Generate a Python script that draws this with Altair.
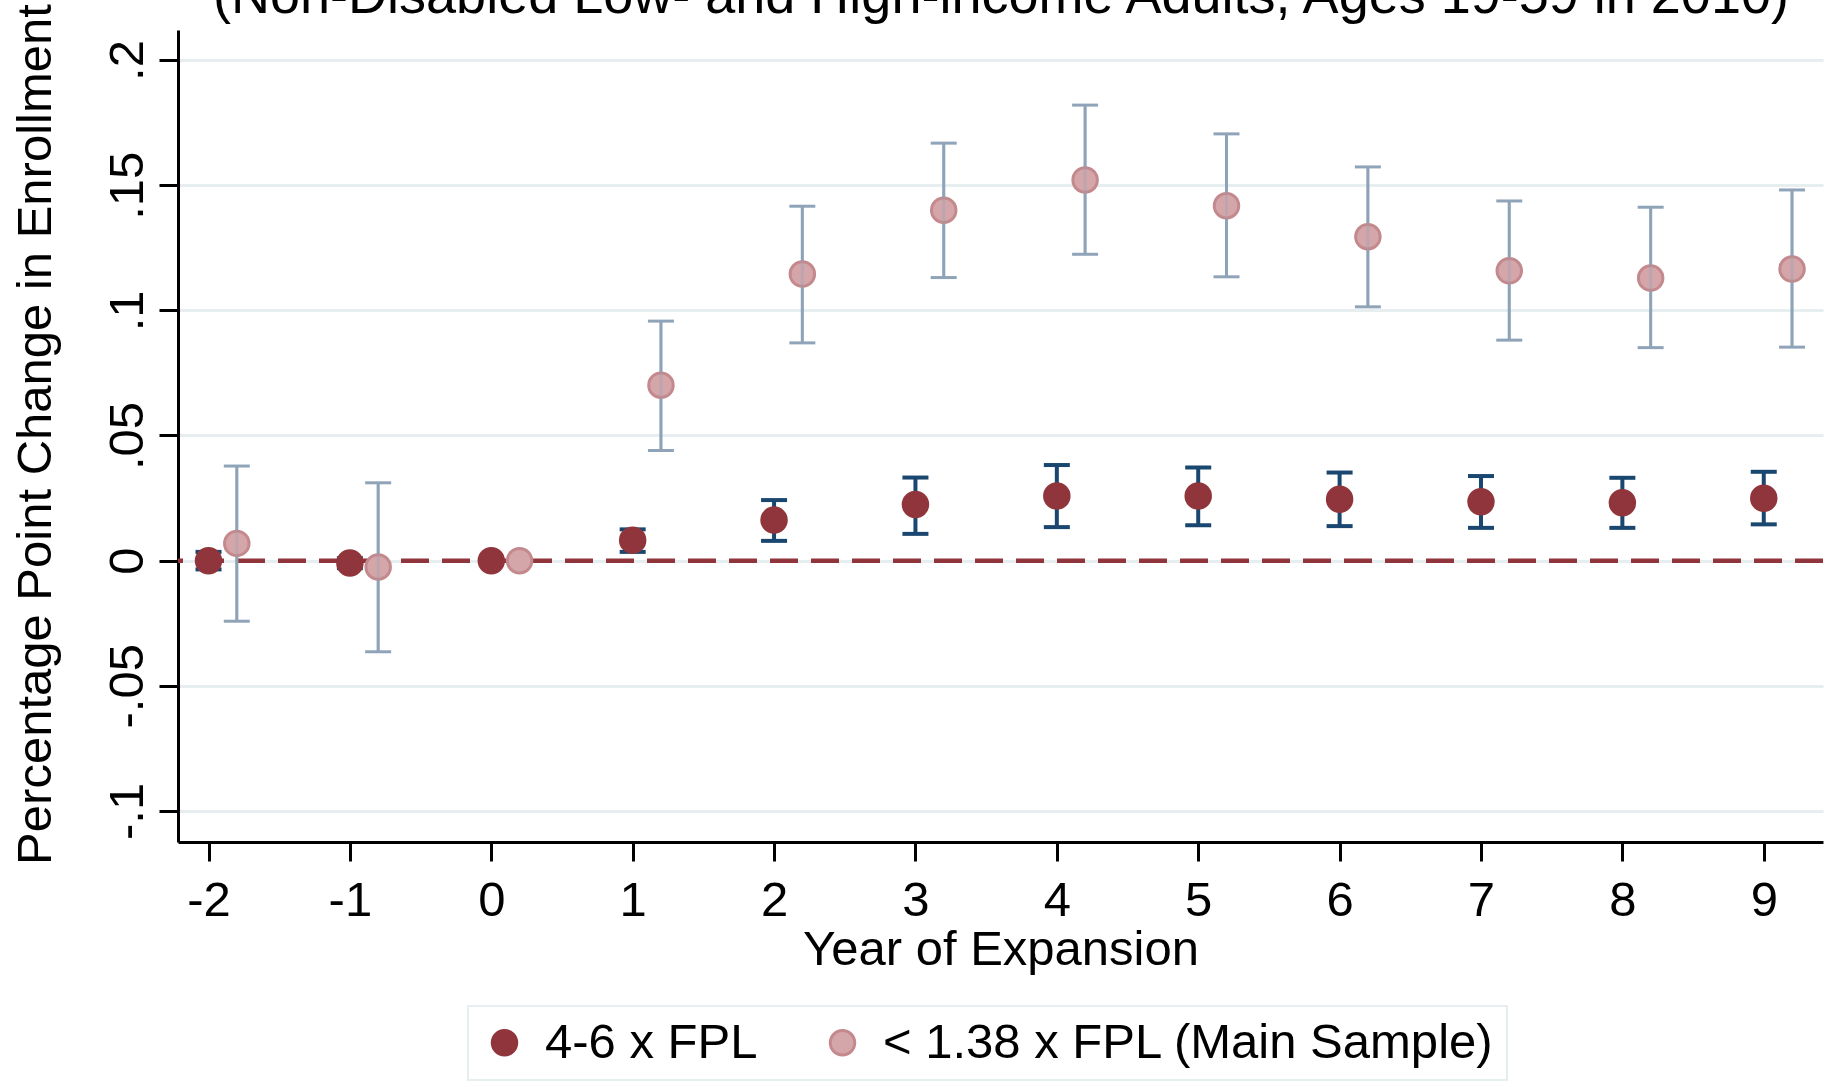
import json
import altair as alt
import pandas as pd

# ---------------- data ----------------
YEARS = [-2, -1, 0, 1, 2, 3, 4, 5, 6, 7, 8, 9]
SERIES = ["4-6 x FPL", "< 1.38 x FPL (Main Sample)"]

HIGH_EST = [0.0, -0.0009, 0.0, 0.0082, 0.0162, 0.0224, 0.0258, 0.0258, 0.0245, 0.0235, 0.0231, 0.0249]
HIGH_LO = [-0.0035, -0.003, None, 0.0035, 0.0079, 0.0107, 0.0134, 0.0141, 0.0138, 0.0131, 0.0131, 0.0145]
HIGH_HI = [0.0035, 0.001, None, 0.0125, 0.0242, 0.0332, 0.0382, 0.0372, 0.0352, 0.0338, 0.0331, 0.0355]

LOW_EST = [0.0069, -0.0025, 0.0, 0.0701, 0.1145, 0.1400, 0.1521, 0.1418, 0.1294, 0.1158, 0.1129, 0.1165]
LOW_LO = [-0.0242, -0.0364, None, 0.0440, 0.0870, 0.1131, 0.1224, 0.1134, 0.1014, 0.0881, 0.0851, 0.0853]
LOW_HI = [0.0378, 0.0311, None, 0.0957, 0.1416, 0.1668, 0.1820, 0.1705, 0.1573, 0.1437, 0.1412, 0.1481]

X_TICKS = [-2, -1, 0, 1, 2, 3, 4, 5, 6, 7, 8, 9]
X_TICK_LABELS = ["-2", "-1", "0", "1", "2", "3", "4", "5", "6", "7", "8", "9"]
Y_TICKS = [-0.1, -0.05, 0.0, 0.05, 0.1, 0.15, 0.2]
Y_TICK_LABELS = ["-.1", "-.05", "0", ".05", ".1", ".15", ".2"]

TITLE = "(Non-Disabled Low- and High-income Adults, Ages 19-59 in 2010)"
X_TITLE = "Year of Expansion"
Y_TITLE = "Percentage Point Change in Enrollment"

# ---------------- style ----------------
FONT = "Liberation Sans"
MAROON = "#90353B"
LIGHT_FILL = "#D4A6A9"
LIGHT_STROKE = "#C3898D"
NAVY = "#1a476f"
LIGHT_CI = "#8fa4b8"
GRID = "#e6eef0"
OFFSET = 0.2  # horizontal shift of the main-sample series

rows = []
for i, yr in enumerate(YEARS):
    rows.append({"series": SERIES[0], "year": yr, "est": HIGH_EST[i], "lo": HIGH_LO[i], "hi": HIGH_HI[i]})
for i, yr in enumerate(YEARS):
    rows.append({"series": SERIES[1], "year": yr, "est": LOW_EST[i], "lo": LOW_LO[i], "hi": LOW_HI[i]})
df = pd.DataFrame(rows)

shift_expr = f"datum.year + (datum.series == '{SERIES[1]}' ? {OFFSET} : 0)"

x_scale = alt.Scale(domain=[-2.2158, 9.419], nice=False, zero=False)
y_scale = alt.Scale(domain=[-0.1124, 0.212], nice=False, zero=False)

x_axis = alt.Axis(
    title=X_TITLE, values=X_TICKS,
    labelExpr=f"{json.dumps(X_TICK_LABELS)}[round(datum.value + 2)]",
    grid=False, domainColor="black", domainWidth=3, tickColor="black", tickWidth=3,
    tickSize=19, labelFont=FONT, labelFontSize=49, labelColor="black", labelPadding=15,
    labelFlush=False, labelOverlap=False,
    titleFont=FONT, titleFontSize=49, titleFontWeight="normal", titleColor="black",
    titleBaseline="alphabetic", titleY=122,
)
y_axis = alt.Axis(
    title=Y_TITLE, values=Y_TICKS,
    labelExpr=f"{json.dumps(Y_TICK_LABELS)}[round((datum.value + 0.1) / 0.05)]",
    grid=True, gridColor=GRID, gridWidth=3,
    domainColor="black", domainWidth=3, tickColor="black", tickWidth=3, tickSize=19,
    labelFont=FONT, labelFontSize=49, labelColor="black", labelAngle=270,
    labelAlign="center", labelBaseline="bottom", labelPadding=7,
    labelFlush=False, labelOverlap=False,
    titleFont=FONT, titleFontSize=49, titleFontWeight="normal", titleColor="black",
    titleAngle=270, titleBaseline="alphabetic", titleAlign="center", titleX=-128, titleY=404,
)


def X():
    return alt.X("xpos:Q", scale=x_scale, axis=x_axis)


def Y(field):
    return alt.Y(field, scale=y_scale, axis=y_axis)


base = alt.Chart(df).transform_calculate(xpos=shift_expr)

zero_line = alt.Chart(pd.DataFrame({"zero": [0.0]})).mark_rule(
    color=MAROON, strokeWidth=4.5, strokeDash=[28, 13]
).encode(y=Y("zero:Q"))


def ci_sub(series):
    return base.transform_filter(f"datum.series == '{series}' && isValid(datum.lo)")


def ci_layers(series, color, width, cap_thick):
    sub = ci_sub(series)
    line = sub.mark_rule(color=color, strokeWidth=width).encode(
        x=X(), y=Y("lo:Q"), y2="hi:Q"
    )
    caps = sub.transform_fold(["lo", "hi"], as_=["end", "yv"]).mark_tick(
        orient="horizontal", size=26, thickness=cap_thick, color=color, opacity=1
    ).encode(x=X(), y=Y("yv:Q"))
    return [line, caps]


legend = alt.Legend(
    title=None, orient="none", legendX=290, legendY=976, direction="horizontal", columns=2,
    labelFont=FONT, labelFontSize=49, labelColor="black", labelOffset=16, labelLimit=2000,
    symbolType="circle", symbolSize=600, symbolStrokeWidth=3, symbolOpacity=1,
    columnPadding=60, padding=12, strokeColor=GRID,
)

points = base.mark_point(filled=True, size=600, strokeWidth=3, opacity=1).encode(
    x=X(),
    y=Y("est:Q"),
    fill=alt.Fill("series:N", scale=alt.Scale(domain=SERIES, range=[MAROON, LIGHT_FILL]), legend=legend),
    stroke=alt.Stroke("series:N", scale=alt.Scale(domain=SERIES, range=[MAROON, LIGHT_STROKE]), legend=legend),
    order=alt.Order("year:Q"),
)

# faint see-through of the main-sample CI over its own (semi-transparent) markers
see_through = ci_sub(SERIES[1]).mark_rule(color=LIGHT_CI, strokeWidth=3, opacity=0.35).encode(
    x=X(), y=Y("lo:Q"), y2="hi:Q"
)

title_text = alt.Chart(pd.DataFrame({"t": [TITLE]})).mark_text(
    font=FONT, fontSize=54, align="center", baseline="alphabetic", color="black"
).encode(text="t:N", x=alt.value(823), y=alt.value(-17))

layers = [zero_line]
layers += ci_layers(SERIES[0], NAVY, 4, 4)
layers += ci_layers(SERIES[1], LIGHT_CI, 3, 3)
layers += [points, see_through, title_text]

chart = alt.layer(*layers).properties(
    width=1645, height=812,
    autosize=alt.AutoSizeParams(type="none"),
    padding={"left": 178, "top": 30, "right": 8, "bottom": 245},
    background="white",
).configure_view(stroke=None).configure_legend(strokeWidth=2)

chart.save("out.html", embed_options={"renderer": "svg", "actions": False})
